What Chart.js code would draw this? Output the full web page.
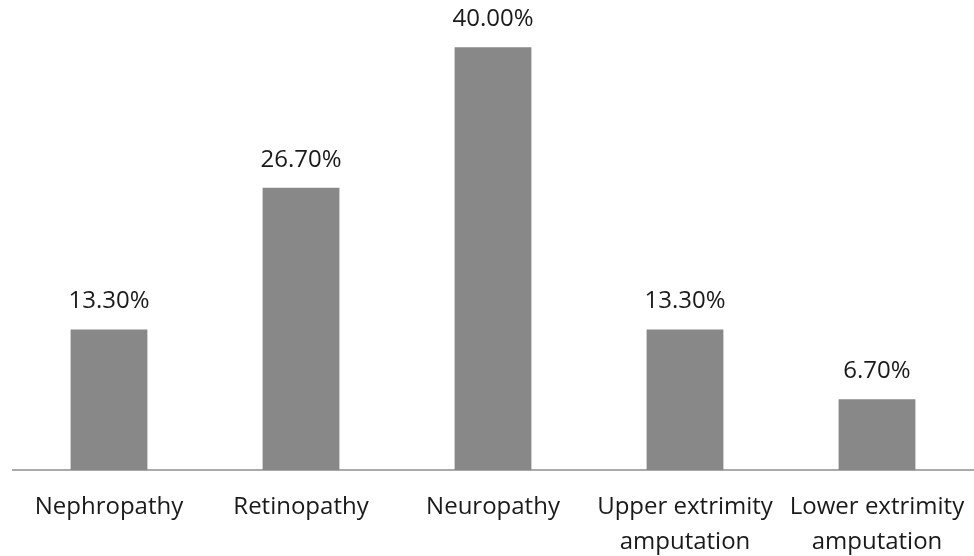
<!DOCTYPE html>
<html>
<head>
<meta charset="utf-8">
<script src="https://cdn.jsdelivr.net/npm/chart.js@4"></script>
<style>
  html, body { margin: 0; padding: 0; background: #fff; }
  #complicacoes { display: block; }
</style>
</head>
<body>
<canvas id="complicacoes"></canvas>
<script>
const categorias = [
    'Nephropathy',
    'Retinopathy',
    'Neuropathy',
    ['Upper extrimity', 'amputation'],
    ['Lower extrimity', 'amputation']
];
const valores = [13.3, 26.7, 40.0, 13.3, 6.7];

const canvas = document.getElementById('complicacoes');
canvas.width = 974;
canvas.height = 556;

// rótulos de valor acima das barras
const rotulosValor = {
    id: 'rotulosValor',
    afterDatasetsDraw(chart) {
        const ctx = chart.ctx;
        const meta = chart.getDatasetMeta(0);
        ctx.save();
        ctx.font = '24px "Open Sans"';
        ctx.fillStyle = '#1a1a1a';
        ctx.textAlign = 'center';
        ctx.textBaseline = 'middle';
        meta.data.forEach((bar, i) => {
            ctx.fillText(valores[i].toFixed(2) + '%', bar.x, bar.y - 28);
        });
        ctx.restore();
    }
};

const ctx = canvas.getContext('2d');
const grafico = new Chart(ctx, {
    type: 'bar',
    data: {
        labels: categorias,
        datasets: [{
            data: valores,
            backgroundColor: '#888888',
            borderWidth: 0,
            categoryPercentage: 1,
            barPercentage: 0.4
        }]
    },
    options: {
        responsive: false,
        animation: false,
        layout: { padding: { left: 13, right: 1, top: 5, bottom: 0 } },
        plugins: {
            legend: { display: false },
            tooltip: { enabled: false }
        },
        scales: {
            x: {
                grid: { display: false, drawTicks: false },
                border: { display: true, color: '#aaaaaa', width: 2 },
                ticks: {
                    color: '#1a1a1a',
                    padding: 20,
                    maxRotation: 0,
                    autoSkip: false,
                    font: { family: 'Open Sans', size: 24, lineHeight: 1.45 }
                },
                afterFit(scale) {
                    scale.height = 86;
                    scale.paddingLeft = 0;
                    scale.paddingRight = 0;
                }
            },
            y: {
                display: false,
                min: 0,
                max: 44
            }
        }
    },
    plugins: [rotulosValor]
});
</script>
</body>
</html>
